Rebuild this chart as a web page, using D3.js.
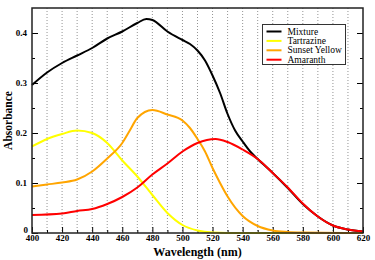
<!DOCTYPE html>
<html>
<head>
<meta charset="utf-8">
<script src="https://cdn.jsdelivr.net/npm/d3@7"></script>
<style>
  body { margin: 0; background: #fff; }
  svg { display: block; font-family: "Liberation Serif", "DejaVu Serif", serif; }
</style>
</head>
<body>
<svg id="chart" width="375" height="260"></svg>
<script>
// wavelength grids (nm) and absorbance
const mixtureX = [400, 410, 420, 430, 440, 450, 460, 470, 476, 480, 490, 500, 505, 510, 515, 520, 525, 530, 535, 540, 545, 550, 560, 570, 580, 590, 600, 610, 620];
const mixtureY = [0.296, 0.321, 0.340, 0.355, 0.370, 0.389, 0.403, 0.420, 0.428, 0.426, 0.403, 0.386, 0.378, 0.365, 0.345, 0.315, 0.280, 0.238, 0.205, 0.183, 0.163, 0.148, 0.120, 0.090, 0.058, 0.033, 0.015, 0.007, 0.003];

const tartrazineX = [400, 410, 420, 430, 440, 450, 460, 470, 480, 490, 500, 510, 520, 540, 620];
const tartrazineY = [0.173, 0.188, 0.198, 0.205, 0.200, 0.180, 0.145, 0.113, 0.076, 0.040, 0.016, 0.005, 0.001, 0, 0];

const sunsetX = [400, 410, 420, 430, 440, 450, 460, 465, 470, 480, 490, 500, 505, 510, 515, 520, 525, 530, 540, 550, 560, 570, 580, 620];
const sunsetY = [0.093, 0.097, 0.101, 0.107, 0.123, 0.149, 0.180, 0.205, 0.230, 0.246, 0.237, 0.225, 0.210, 0.188, 0.163, 0.130, 0.100, 0.073, 0.034, 0.014, 0.005, 0.002, 0.001, 0];

const amaranthX = [400, 420, 430, 440, 450, 460, 470, 480, 490, 500, 510, 522, 530, 540, 550, 560, 570, 580, 590, 600, 610, 620];
const amaranthY = [0.036, 0.039, 0.044, 0.048, 0.058, 0.072, 0.091, 0.117, 0.139, 0.163, 0.180, 0.188, 0.182, 0.167, 0.148, 0.120, 0.091, 0.059, 0.033, 0.015, 0.007, 0.003];

const seriesNames = ["Mixture", "Tartrazine", "Sunset Yellow", "Amaranth"];
const seriesColors = ["#000000", "#ffff00", "#ffa500", "#ff0000"];

const xTicks = [400, 420, 440, 460, 480, 500, 520, 540, 560, 580, 600, 620];
const yTicks = [0, 0.1, 0.2, 0.3, 0.4];

const margin = { top: 8, right: 12, bottom: 27, left: 32 };
const width = 375, height = 260;

const svg = d3.select("#chart");

const x = d3.scaleLinear().domain([400, 620]).range([margin.left, width - margin.right]);
const y = d3.scaleLinear().domain([0, 0.45]).range([height - margin.bottom, margin.top]);

// dotted vertical grid every 10 nm
svg.append("g")
    .selectAll("line")
    .data(d3.range(410, 620, 10))
    .enter()
    .append("line")
    .attr("x1", d => x(d))
    .attr("x2", d => x(d))
    .attr("y1", y(0.45))
    .attr("y2", y(0))
    .attr("stroke", "#777")
    .attr("stroke-width", 0.8)
    .attr("stroke-dasharray", "1,2");

// ticks pointing into the plot
svg.append("g")
    .attr("transform", `translate(0,${y(0)})`)
    .call(d3.axisBottom(x).tickValues(xTicks).tickSize(-6).tickPadding(2).tickFormat(d3.format("d")));
svg.append("g")
    .attr("transform", `translate(0,${y(0)})`)
    .call(d3.axisBottom(x).tickValues(d3.range(410, 620, 20)).tickSize(-3).tickFormat(""));

const yAxis = svg.append("g")
    .attr("transform", `translate(${x(400)},0)`)
    .call(d3.axisLeft(y).tickValues(yTicks).tickSize(-6).tickPadding(5).tickFormat(d => d === 0 ? "0" : d3.format(".1f")(d)));
svg.append("g")
    .attr("transform", `translate(${x(400)},0)`)
    .call(d3.axisLeft(y).tickValues([0.05, 0.15, 0.25, 0.35]).tickSize(-3).tickFormat(""));

svg.append("g")
    .attr("transform", `translate(${x(620)},0)`)
    .call(d3.axisRight(y).tickValues(yTicks).tickSize(-6).tickFormat(""));
svg.append("g")
    .attr("transform", `translate(${x(620)},0)`)
    .call(d3.axisRight(y).tickValues([0.05, 0.15, 0.25, 0.35]).tickSize(-3).tickFormat(""));

svg.selectAll(".domain").remove();
svg.selectAll(".tick line").attr("stroke", "#000").attr("stroke-width", 1);
svg.selectAll(".tick text")
    .attr("font-family", "Liberation Serif, serif")
    .attr("font-weight", "bold")
    .attr("font-size", 9)
    .attr("fill", "#000");
yAxis.selectAll(".tick").filter(d => d === 0).select("text").attr("dy", "-0.1em").attr("x", -4);

// curves
const line = d3.line()
    .x(d => x(d[0]))
    .y(d => y(d[1]))
    .curve(d3.curveMonotoneX);

const allSeries = [
    d3.zip(mixtureX, mixtureY),
    d3.zip(tartrazineX, tartrazineY),
    d3.zip(sunsetX, sunsetY),
    d3.zip(amaranthX, amaranthY)
];

// drawing order: yellow, orange, black, red (red sits on top of black)
[1, 2, 0, 3].forEach(i => {
    svg.append("path")
        .datum(allSeries[i])
        .attr("fill", "none")
        .attr("stroke", seriesColors[i])
        .attr("stroke-width", 2)
        .attr("stroke-linejoin", "round")
        .attr("d", line);
});

// frame
svg.append("rect")
    .attr("x", x(400))
    .attr("y", y(0.45))
    .attr("width", x(620) - x(400))
    .attr("height", y(0) - y(0.45))
    .attr("fill", "none")
    .attr("stroke", "#222")
    .attr("stroke-width", 1.5);

// legend
const legend = svg.append("g").attr("transform", "translate(262.5,24.5)");
legend.append("rect")
    .attr("width", 83)
    .attr("height", 40)
    .attr("fill", "#fff")
    .attr("stroke", "#333")
    .attr("stroke-width", 1);
seriesNames.forEach((name, i) => {
    const ly = 7 + i * 9.4;
    legend.append("line")
        .attr("x1", 4).attr("x2", 19)
        .attr("y1", ly).attr("y2", ly)
        .attr("stroke", seriesColors[i])
        .attr("stroke-width", 2);
    legend.append("text")
        .attr("x", 25)
        .attr("y", ly + 3)
        .attr("font-size", 9.5)
        .attr("fill", "#000")
        .text(name);
});

// axis titles
svg.append("text")
    .attr("x", (x(400) + x(620)) / 2)
    .attr("y", 256)
    .attr("text-anchor", "middle")
    .attr("font-weight", "bold")
    .attr("font-size", 12)
    .text("Wavelength (nm)");

svg.append("text")
    .attr("transform", `translate(12,${(y(0) + y(0.45)) / 2}) rotate(-90)`)
    .attr("text-anchor", "middle")
    .attr("font-weight", "bold")
    .attr("font-size", 11.5)
    .text("Absorbance");
</script>
</body>
</html>
